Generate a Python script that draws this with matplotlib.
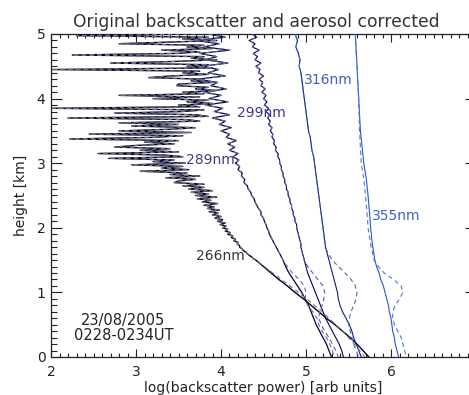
import numpy as np
import matplotlib
matplotlib.use("Agg")
import matplotlib.pyplot as plt
from matplotlib.ticker import MultipleLocator

# ---------------- data ----------------
# upper noisy part of 266 nm profile, heights 5.0 -> 1.5 km every 0.025 km
h266_hi = np.linspace(5.0, 1.5, 141)
x266_hi = [3.70, 2.30, 3.85, 3.55, 3.95, 3.40, 2.80, 3.80, 3.60, 3.90,
           3.30, 3.75, 3.50, 2.25, 3.80, 3.65, 3.95, 3.45, 2.70, 3.85,
           3.60, 3.90, 2.00, 3.75, 3.55, 3.85, 3.40, 3.15, 3.80, 3.65,
           3.90, 3.50, 3.48, 3.85, 3.70, 3.95, 3.55, 3.80, 2.80, 3.75,
           3.20, 3.85, 3.60, 3.90, 3.50, 3.75, 2.02, 3.80, 3.55, 2.75,
           3.70, 3.85, 2.20, 3.60, 3.75, 2.80, 3.50, 2.95, 3.70, 3.40,
           2.80, 3.65, 2.45, 3.55, 3.20, 2.22, 3.50, 3.10, 3.45, 3.00,
           2.75, 3.40, 3.05, 3.50, 2.55, 3.35, 3.55, 2.68, 3.45, 3.20,
           3.58, 2.95, 3.55, 3.30, 3.62, 3.05, 3.60, 3.40, 3.75, 3.35,
           3.70, 3.50, 3.45, 3.80, 3.55, 3.80, 3.62, 3.90, 3.65, 3.85,
           3.70, 3.95, 3.72, 3.88, 3.78, 3.96, 3.80, 3.92, 3.84, 3.98,
           3.86, 3.97, 3.90, 4.00, 3.93, 4.02, 3.96, 4.05, 3.99, 4.06,
           4.02, 4.08, 4.05, 4.11, 4.08, 4.14, 4.12, 4.17, 4.15, 4.20,
           4.19, 4.22, 4.22, 4.25, 4.26, 4.29, 4.31, 4.33, 4.36, 4.38,
           4.41]
# lower part, heights 1.4 -> 0.0 km
h_lo = [1.4, 1.3, 1.2, 1.1, 1.0, 0.9, 0.8, 0.7, 0.6, 0.5, 0.4, 0.3, 0.2, 0.1, 0.0]
x266_lo = [4.50, 4.59, 4.68, 4.78, 4.87, 4.97, 5.06, 5.15, 5.24, 5.34, 5.43, 5.52, 5.60, 5.67, 5.74]
x266c_lo = [4.51, 4.61, 4.71, 4.81, 4.91, 5.01, 5.10, 5.19, 5.27, 5.35, 5.43, 5.50, 5.57, 5.63, 5.69]

# 289 and 299 nm, heights 5.0 -> 1.5 km every 0.05 km
h_mid = np.linspace(5.0, 1.5, 71)
x289_hi = [3.85, 4.05, 3.70, 3.98, 3.80, 4.10, 3.75, 3.95, 3.82, 4.08,
           3.78, 3.97, 3.85, 4.05, 3.72, 3.96, 3.88, 4.06, 3.80, 4.00,
           3.86, 4.08, 3.82, 4.02, 3.92, 4.10, 3.90, 4.05, 3.98, 4.12,
           4.00, 4.10, 4.06, 4.18, 4.08, 4.16, 4.10, 4.20, 4.14, 4.21,
           4.17, 4.22, 4.20, 4.25, 4.24, 4.28, 4.27, 4.31, 4.32, 4.35,
           4.36, 4.39, 4.40, 4.42, 4.44, 4.47, 4.47, 4.50, 4.51, 4.53,
           4.54, 4.56, 4.57, 4.59, 4.61, 4.63, 4.65, 4.67, 4.69, 4.71,
           4.73]
x289_lo = [4.76, 4.80, 4.85, 4.90, 4.95, 4.99, 5.03, 5.06, 5.09, 5.12, 5.16, 5.20, 5.24, 5.27, 5.30]
x289c_lo = [4.78, 4.84, 4.92, 4.98, 5.00, 4.99, 5.02, 5.08, 5.13, 5.15, 5.19, 5.24, 5.28, 5.31, 5.33]

x299_hi = [4.36, 4.42, 4.33, 4.40, 4.37, 4.45, 4.38, 4.43, 4.40, 4.47,
           4.41, 4.46, 4.44, 4.50, 4.45, 4.49, 4.47, 4.52, 4.48, 4.53,
           4.50, 4.54, 4.51, 4.56, 4.53, 4.57, 4.55, 4.58, 4.56, 4.60,
           4.58, 4.61, 4.60, 4.63, 4.62, 4.65, 4.64, 4.67, 4.67, 4.69,
           4.69, 4.71, 4.71, 4.73, 4.73, 4.75, 4.75, 4.77, 4.77, 4.79,
           4.79, 4.81, 4.81, 4.83, 4.83, 4.85, 4.85, 4.87, 4.87, 4.89,
           4.89, 4.90, 4.91, 4.92, 4.93, 4.94, 4.94, 4.95, 4.96, 4.97,
           4.98]
x299_lo = [5.00, 5.02, 5.05, 5.08, 5.11, 5.14, 5.17, 5.20, 5.23, 5.27, 5.31, 5.35, 5.39, 5.42, 5.44]
x299c_lo = [5.02, 5.08, 5.14, 5.20, 5.22, 5.21, 5.19, 5.16, 5.15, 5.18, 5.22, 5.27, 5.31, 5.35, 5.38]

# 316 nm, heights 5.0 -> 0.0 every 0.1 km
h316 = np.linspace(5.0, 0.0, 51)
x316 = [4.87, 4.90, 4.88, 4.91, 4.93, 4.92, 4.94, 4.95, 4.96, 4.97,
        4.98, 4.99, 5.00, 5.01, 5.02, 5.03, 5.05, 5.06, 5.07, 5.09,
        5.10, 5.11, 5.12, 5.13, 5.14, 5.15, 5.16, 5.17, 5.18, 5.19,
        5.20, 5.21, 5.22, 5.23, 5.25, 5.27, 5.29, 5.31, 5.33, 5.35,
        5.37, 5.38, 5.40, 5.43, 5.47, 5.51, 5.54, 5.56, 5.59, 5.62,
        5.65]
h316c_lo = [1.6, 1.5, 1.4, 1.3, 1.2, 1.1, 1.0, 0.9, 0.8, 0.7, 0.6, 0.5, 0.4, 0.3, 0.2, 0.1, 0.0]
x316c_lo = [5.26, 5.31, 5.38, 5.46, 5.53, 5.58, 5.60, 5.59, 5.56, 5.53, 5.51, 5.50, 5.52, 5.54, 5.56, 5.59, 5.62]

# 355 nm
h355 = [5.0, 4.5, 4.0, 3.5, 3.0, 2.75, 2.5, 2.2, 2.0, 1.75, 1.5, 1.4, 1.3, 1.2, 1.1,
        1.0, 0.9, 0.8, 0.7, 0.6, 0.5, 0.4, 0.3, 0.2, 0.1, 0.0]
x355 = [5.58, 5.60, 5.62, 5.64, 5.68, 5.71, 5.73, 5.75, 5.76, 5.78, 5.81, 5.83, 5.86, 5.88, 5.91,
        5.93, 5.95, 5.97, 5.98, 6.00, 6.01, 6.02, 6.04, 6.05, 6.07, 6.09]
x355c = [5.58, 5.60, 5.62, 5.63, 5.65, 5.68, 5.70, 5.72, 5.73, 5.76, 5.80, 5.85, 5.92, 6.03, 6.12,
         6.14, 6.10, 6.05, 6.02, 6.02, 6.04, 6.08, 6.12, 6.14, 6.16, 6.18]

labels = ["266nm", "289nm", "299nm", "316nm", "355nm"]
label_x = [3.99, 3.88, 4.47, 5.26, 6.06]
label_y = [1.56, 3.05, 3.78, 4.29, 2.18]

title = "Original backscatter and aerosol corrected"
xlabel = "log(backscatter power) [arb units]"
ylabel = "height [km]"
date_text = ["23/08/2005", "0228-0234UT"]

# ---------------- figure ----------------
plt.rcParams['font.family'] = ['DejaVu Sans']
fig = plt.figure(figsize=(4.69, 3.95), dpi=100)
ax = fig.add_axes([51/469, 38/395, 425/469, 323/395])

solid_cols = ['#000022', '#000040', '#000060', '#101c8c', '#2a55c8']
dash_cols = ['#707080', '#6a6a98', '#5a5aa0', '#5068b8', '#4a78d8']
lab_cols = ['#333344', '#404078', '#383890', '#4a5ab8', '#3a62cc']
solid_lw = [1.0, 0.9, 0.8, 0.8, 0.8]

series = [
    (np.r_[h266_hi, h_lo], np.r_[x266_hi, x266_lo], np.r_[x266_hi, x266c_lo], np.r_[h266_hi, h_lo]),
    (np.r_[h_mid, h_lo], np.r_[x289_hi, x289_lo], np.r_[x289_hi, x289c_lo], np.r_[h_mid, h_lo]),
    (np.r_[h_mid, h_lo], np.r_[x299_hi, x299_lo], np.r_[x299_hi, x299c_lo], np.r_[h_mid, h_lo]),
    (h316, np.array(x316), np.r_[x316[:34], x316c_lo], np.r_[h316[:34], h316c_lo]),
    (np.array(h355), np.array(x355), np.array(x355c), np.array(h355)),
]

for i, (h, xs, xc, hc) in enumerate(series):
    ax.plot(xs, h, color=solid_cols[i], lw=solid_lw[i], zorder=3)
    ax.plot(xc, hc, color=dash_cols[i], lw=0.8, ls=(0, (4, 3)), zorder=4)

for t, lx, ly, c in zip(labels, label_x, label_y, lab_cols):
    ax.text(lx, ly, t, color=c, fontsize=10, ha='center', va='center', zorder=5)

ax.text(2.85, 0.57, date_text[0], color='#222222', fontsize=10.5, ha='center', va='center')
ax.text(2.85, 0.33, date_text[1], color='#222222', fontsize=10.5, ha='center', va='center')

ax.set_xlim(2, 7)
ax.set_ylim(0, 5)
ax.xaxis.set_major_locator(MultipleLocator(1))
ax.xaxis.set_minor_locator(MultipleLocator(0.1))
ax.yaxis.set_major_locator(MultipleLocator(1))
ax.yaxis.set_minor_locator(MultipleLocator(0.1))
ax.set_xticks([2, 3, 4, 5, 6, 7])
ax.set_xticklabels(['2', '3', '4', '5', '6', ''])
ax.tick_params(which='both', direction='in', top=True, right=True, color='#222222',
               labelsize=10, labelcolor='#222222', width=0.8)
ax.tick_params(axis='x', which='major', length=6, pad=6)
ax.tick_params(axis='x', which='minor', length=3)
ax.tick_params(axis='y', which='major', length=8, pad=4)
ax.tick_params(axis='y', which='minor', length=4)
for s in ax.spines.values():
    s.set_color('#222222')
    s.set_linewidth(0.9)

ax.set_xlabel(xlabel, fontsize=10, color='#222222', labelpad=1)
ax.set_ylabel(ylabel, fontsize=10, color='#222222', labelpad=6)
ax.set_title(title, fontsize=12.3, color='#333333', pad=5)
ax.title.set_position((0.5 - 0.017, 1.0))

fig.savefig('out.png', dpi=100)
